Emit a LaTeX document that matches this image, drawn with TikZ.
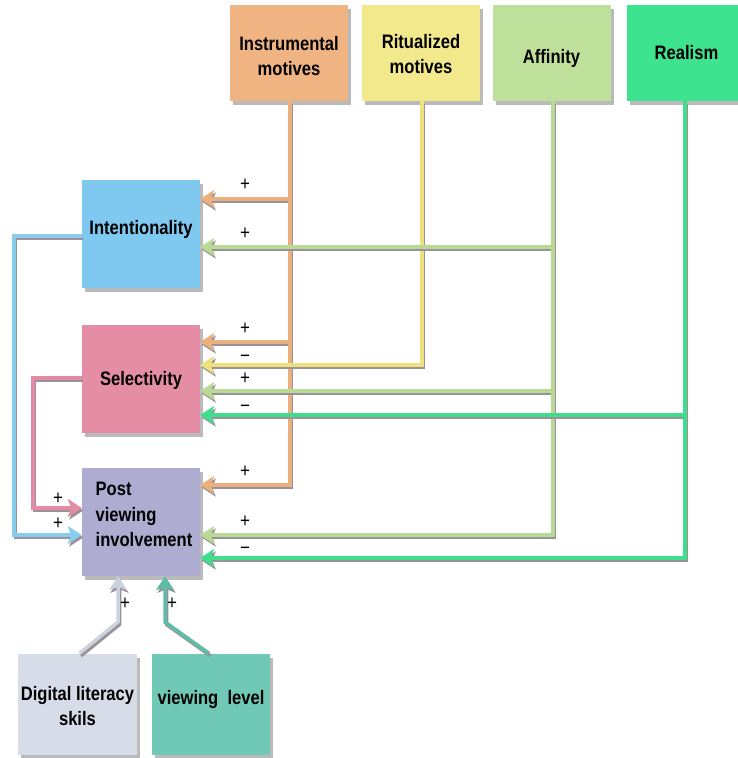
\documentclass[tikz,border=0pt]{standalone}
\usepackage{fontspec}
\setmainfont{Liberation Sans}[FakeStretch=0.85]
\usetikzlibrary{arrows.meta,shadows}

% box fills
\definecolor{cInstr}{HTML}{F0B482}
\definecolor{cRitual}{HTML}{F2E88C}
\definecolor{cAffin}{HTML}{BFE09A}
\definecolor{cReal}{HTML}{3EE38F}
\definecolor{cIntent}{HTML}{7FC8F0}
\definecolor{cSelect}{HTML}{E68DA6}
\definecolor{cPost}{HTML}{AFACD2}
\definecolor{cDigital}{HTML}{D6DDE8}
\definecolor{cLevel}{HTML}{6FC9B6}
% connector colours
\definecolor{lInstr}{HTML}{EAB07E}
\definecolor{lRitual}{HTML}{EFE27E}
\definecolor{lAffin}{HTML}{B9DA94}
\definecolor{lReal}{HTML}{3FDE8C}
\definecolor{lIntent}{HTML}{88CCF0}
\definecolor{lSelect}{HTML}{E48BA3}
\definecolor{lDigital}{HTML}{CBD3DE}
\definecolor{lLevel}{HTML}{5DBDA7}
\definecolor{lShadow}{HTML}{9A9298}

\tikzset{
  box/.style={fill=#1, minimum width=118pt, minimum height=108pt, inner sep=0pt,
    font=\bfseries\fontsize{19.5}{25.5}\selectfont,
    drop shadow={shadow xshift=3pt, shadow yshift=-4pt, fill=black!45, opacity=0.6}},
  topbox/.style={box=#1, minimum height=96pt},
  link/.style={draw=#1, line width=3.5pt, line join=miter,
    preaction={draw=lShadow, line width=3.5pt, transform canvas={shift={(1.5pt,-2.5pt)}}}},
  tip/.style={-{Stealth[length=14pt,width=18pt,inset=3.5pt]}},
  sign/.style={font=\fontsize{20}{20}\selectfont, inner sep=0pt},
}
% box captions moved up or down by #1 without changing their size
\newcommand{\capc}[2]{\raisebox{#1}[\height][\depth]{\begin{tabular}{@{}c@{}}#2\end{tabular}}}
\newcommand{\capl}[2]{\raisebox{#1}[\height][\depth]{\begin{tabular}{@{}l@{}}#2\end{tabular}}}
\newcommand{\capone}[2]{\raisebox{#1}[\height][\depth]{#2}}

\begin{document}
\begin{tikzpicture}[x=1pt,y=-1pt]
\useasboundingbox (0,0) rectangle (738,758);

% factor boxes
\node[topbox=cInstr]  (instr)   at (289,53)   {\capc{-5pt}{Instrumental\\motives}};
\node[topbox=cRitual] (ritual)  at (421,53)   {\capc{-3pt}{Ritualized\\motives}};
\node[topbox=cAffin]  (affin)   at (551.5,53) {\capone{-5pt}{Affinity}};
\node[topbox=cReal, minimum width=111pt] (realism) at (682.5,53) {\hspace*{8pt}Realism};

\node[box=cIntent] (intent) at (141,234)   {\capone{5pt}{Intentionality}};
\node[box=cSelect] (select) at (141,378.5) {\capone{-2pt}{Selectivity}};
\node[box=cPost] (post) at (141,522) {\hspace*{6pt}\capl{6pt}{Post\\viewing\\involvement}};

\node[box=cDigital, minimum width=119pt, minimum height=101pt] (digital) at (77.5,704) {\capc{-4pt}{Digital literacy\\skils}};
\node[box=cLevel, minimum height=101pt] (vlevel) at (211,704) {\capone{5pt}{viewing\ \ level}};

% junction points
\coordinate (o1) at (290,199);
\coordinate (o2) at (290,342);
\coordinate (o3) at (290,485);
\coordinate (y1) at (422,365);
\coordinate (a1) at (553,247);
\coordinate (a2) at (553,391);
\coordinate (a3) at (553,535);
\coordinate (r1) at (685,415);
\coordinate (r2) at (685,558);
\coordinate (b1) at (14,236);
\coordinate (b2) at (14,535);
\coordinate (p1) at (33,378);
\coordinate (p2) at (33,508);
\coordinate (d1) at (118,622);
\coordinate (v1) at (165,622);

% instrumental motives
\draw[link=lInstr, tip] (o1) -- (o1 -| intent.east);
\draw[link=lInstr, tip] (o2) -- (o2 -| select.east);
\draw[link=lInstr, tip] (instr.south -| o1) -- (o3) -- (o3 -| post.east);

% ritualized motives
\draw[link=lRitual, tip] (ritual.south -| y1) -- (y1) -- (y1 -| select.east);

% affinity
\draw[link=lAffin, tip] (a1) -- (a1 -| intent.east);
\draw[link=lAffin, tip] (a2) -- (a2 -| select.east);
\draw[link=lAffin, tip] (affin.south -| a1) -- (a3) -- (a3 -| post.east);

% realism
\draw[link=lReal, tip] (r1) -- (r1 -| select.east);
\draw[link=lReal, tip] (realism.south -| r1) -- (r2) -- (r2 -| post.east);

% feedback into post viewing involvement
\draw[link=lIntent, tip] (intent.west |- b1) -- (b1) -- (b2) -- (b2 -| post.west);
\draw[link=lSelect, tip] (select.west |- p1) -- (p1) -- (p2) -- (p2 -| post.west);

% bottom factors
\draw[link=lDigital, tip] ([xshift=2pt]digital.north) -- (d1) -- (d1 |- post.south);
\draw[link=lLevel, tip] ([xshift=-2pt]vlevel.north) -- (v1) -- (v1 |- post.south);

% signs
\node[sign] (s1)  at (245,185) {+};
\node[sign] (s2)  at (245,234) {+};
\node[sign] (s3)  at (245,329) {+};
\node[sign] (s4)  at (245,359) {−};
\node[sign] (s5)  at (245,379) {+};
\node[sign] (s6)  at (245,409) {−};
\node[sign] (s7)  at (245,472) {+};
\node[sign] (s8)  at (245,522) {+};
\node[sign] (s9)  at (245,551) {−};
\node[sign] (s10) at (58,499)  {+};
\node[sign] (s11) at (58,524)  {+};
\node[sign] (s12) at (125,604) {+};
\node[sign] (s13) at (172,604) {+};
\end{tikzpicture}
\end{document}
